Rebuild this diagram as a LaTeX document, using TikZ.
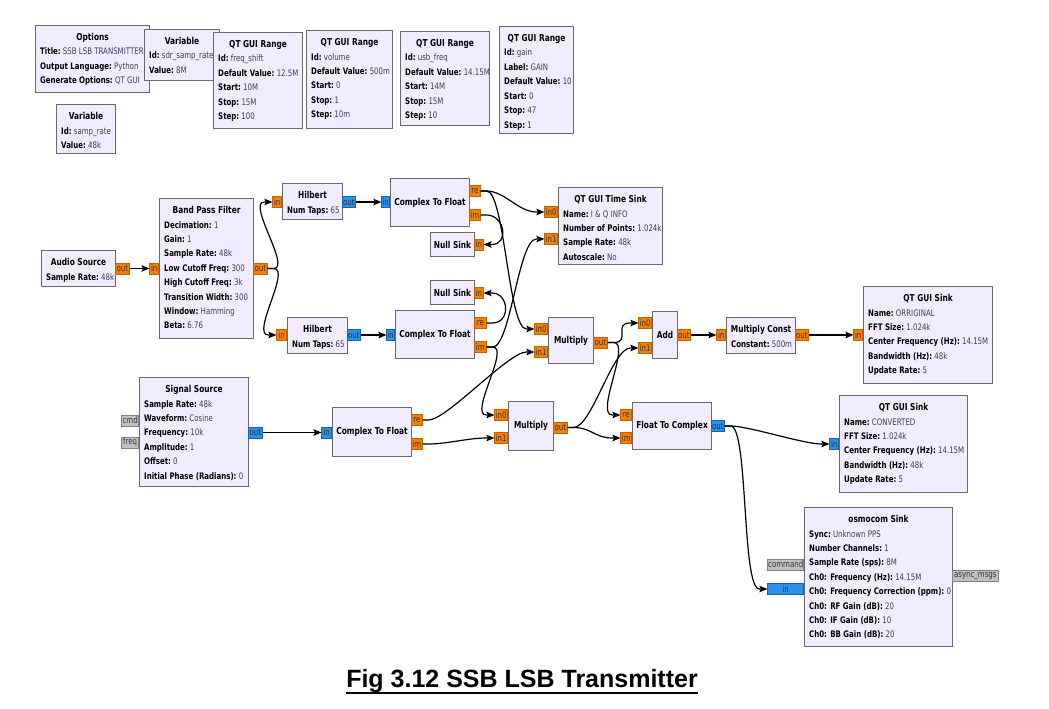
\documentclass[tikz,border=0pt]{standalone}
\usepackage{fontspec}
\usetikzlibrary{arrows.meta}
\newfontfamily\grcfont[FakeStretch=0.78]{DejaVu Sans}
\newfontfamily\capfont{Liberation Sans}
\definecolor{blkfill}{RGB}{241,236,255}
\definecolor{blkline}{RGB}{105,105,105}
\definecolor{valc}{RGB}{60,60,95}
\definecolor{fport}{RGB}{245,128,0}
\definecolor{fportl}{RGB}{200,95,0}
\definecolor{cport}{RGB}{40,145,235}
\definecolor{cportl}{RGB}{20,100,190}
\definecolor{mport}{RGB}{192,192,192}
\definecolor{mportl}{RGB}{130,130,130}
\tikzset{
 blk/.style={draw=blkline, line width=1.1pt, fill=blkfill, inner sep=0pt, anchor=north west},
 ttl/.style={font=\grcfont\fontsize{9.5}{11}\selectfont\bfseries, inner sep=0pt},
 prm/.style={font=\grcfont\fontsize{9}{11}\selectfont, text=valc, inner sep=0pt},
 port/.style={inner sep=0pt, minimum height=11pt, line width=0.6pt, font=\grcfont\fontsize{9}{10}\selectfont, text=black!80},
 fp/.style={port, fill=fport, draw=fportl},
 cp/.style={port, fill=cport, draw=cportl},
 mp/.style={port, fill=mport, draw=mportl},
 wire/.style={line width=1.2pt, -{Stealth[length=8pt,width=6.5pt,inset=1.5pt]}},
}
\newcommand{\grcblock}[7]{%
  \node[blk, minimum width=#4, minimum height=#5] (#1) at (#2,#3) {};
  \node[ttl, anchor=base] at ([yshift=-15.6pt]#1.north) {#6};
  \foreach \kk/\vv [count=\ii] in {#7} {%
    \node[prm, anchor=base west] at ([xshift=5pt,yshift={-15.6pt-14.4pt*\ii}]#1.north west) {{\color{black}\bfseries\kk:}\ \vv};
  }%
}
\newcommand{\grcsimple}[6]{%
  \node[blk, minimum width=#4, minimum height=#5] (#1) at (#2,#3) {};
  \node[ttl] at (#1.center) {#6};
}
\newcommand{\grcw}[2]{\draw[wire] (#1.east) -- ++(6,0) .. controls +(18,0) and +(-18,0) .. ([xshift=-8pt]#2.west) -- (#2.west);}
\newcommand{\grcwr}[2]{\draw[wire] (#1.east) -- ++(6,0) .. controls +(18,0) and +(18,0) .. ([xshift=8pt]#2.east) -- (#2.east);}
\begin{document}
\begin{tikzpicture}[x=1pt,y=-1pt]
\fill[white] (0,0) rectangle (1049,709);
\useasboundingbox (0,0) rectangle (1049,709);

% variables / options
\grcblock{opt}{35}{25}{114}{67}{Options}{Title/SSB LSB TRANSMITTER, Output Language/Python, Generate Options/QT GUI}
\grcblock{var1}{144}{29}{75}{51}{Variable}{Id/sdr\_samp\_rate, Value/8M}
\grcblock{rng1}{213}{32}{89}{96}{QT GUI Range}{Id/freq\_shift, Default Value/12.5M, Start/10M, Stop/15M, Step/100}
\grcblock{rng2}{306}{30}{86}{98}{QT GUI Range}{Id/volume, Default Value/500m, Start/0, Stop/1, Step/10m}
\grcblock{rng3}{400}{31}{89}{94}{QT GUI Range}{Id/usb\_freq, Default Value/14.15M, Start/14M, Stop/15M, Step/10}
\grcblock{rng4}{499}{26}{74}{107}{QT GUI Range}{Id/gain, Label/GAIN, Default Value/10, Start/0, Stop/47, Step/1}
\grcblock{var2}{56}{104}{59}{49}{Variable}{Id/samp\_rate, Value/48k}

% flow blocks
\grcblock{asrc}{41}{250}{74}{36}{Audio Source}{Sample Rate/48k}
\grcblock{bpf}{159}{198}{94}{140}{Band Pass Filter}{Decimation/1, Gain/1, Sample Rate/48k, Low Cutoff Freq/300, High Cutoff Freq/3k, Transition Width/300, Window/Hamming, Beta/6.76}
\grcblock{hil1}{282}{183}{60}{36}{Hilbert}{Num Taps/65}
\grcblock{hil2}{287}{317}{60}{36}{Hilbert}{Num Taps/65}
\grcsimple{ctf1}{390}{178}{79}{48}{Complex To Float}
\grcsimple{null1}{430}{232}{44}{24}{Null Sink}
\grcsimple{null2}{430}{280}{44}{24}{Null Sink}
\grcsimple{ctf2}{395}{310}{79}{48}{Complex To Float}
\grcblock{tsink}{558}{187}{104}{77}{QT GUI Time Sink}{Name/I \& Q INFO, Number of Points/1.024k, Sample Rate/48k, Autoscale/No}
\grcsimple{mul1}{548}{317}{45}{46}{Multiply}
\grcsimple{add}{652}{311}{25}{47}{Add}
\grcblock{mconst}{726}{317}{69}{36}{Multiply Const}{Constant/500m}
\grcblock{qsink1}{863}{286}{129}{97}{QT GUI Sink}{Name/ORRIGINAL, FFT Size/1.024k, Center Frequency (Hz)/14.15M, Bandwidth (Hz)/48k, Update Rate/5}
\grcblock{ssrc}{139}{377}{109}{109}{Signal Source}{Sample Rate/48k, Waveform/Cosine, Frequency/10k, Amplitude/1, Offset/0, Initial Phase (Radians)/0}
\grcsimple{ctf3}{332}{407}{79}{49}{Complex To Float}
\grcsimple{mul2}{508}{401}{45}{49}{Multiply}
\grcsimple{ftc}{632}{402}{79}{47}{Float To Complex}
\grcblock{qsink2}{839}{395}{128}{97}{QT GUI Sink}{Name/CONVERTED, FFT Size/1.024k, Center Frequency (Hz)/14.15M, Bandwidth (Hz)/48k, Update Rate/5}
\grcblock{osmo}{804}{507}{148}{139}{osmocom Sink}{Sync/Unknown PPS, Number Channels/1, Sample Rate (sps)/8M, Ch0: Frequency (Hz)/14.15M, Ch0: Frequency Correction (ppm)/0, Ch0: RF Gain (dB)/20, Ch0: IF Gain (dB)/10, Ch0: BB Gain (dB)/20}

% ports
\node[fp, minimum width=14pt, anchor=west] (asrc-o) at (115,268.5) {out};
\node[fp, minimum width=9pt, anchor=east] (bpf-i) at (159,268.5) {in};
\node[fp, minimum width=14pt, anchor=west] (bpf-o) at (253,268.5) {out};
\node[fp, minimum width=9pt, anchor=east] (hil1-i) at (282,202) {in};
\node[cp, minimum width=13pt, anchor=west] (hil1-o) at (342,202) {out};
\node[cp, minimum width=8pt, anchor=east] (ctf1-i) at (390,202) {in};
\node[fp, minimum width=11pt, anchor=west] (ctf1-re) at (469,191) {re};
\node[fp, minimum width=11pt, anchor=west] (ctf1-im) at (469,215) {im};
\node[fp, minimum width=9pt, anchor=west] (null1-i) at (474,244.5) {in};
\node[fp, minimum width=13pt, anchor=east] (tsink-i0) at (558,212) {in0};
\node[fp, minimum width=13pt, anchor=east] (tsink-i1) at (558,239) {in1};
\node[fp, minimum width=9pt, anchor=west] (null2-i) at (474,293) {in};
\node[fp, minimum width=10pt, anchor=east] (hil2-i) at (287,335) {in};
\node[cp, minimum width=13pt, anchor=west] (hil2-o) at (347,335) {out};
\node[cp, minimum width=8pt, anchor=east] (ctf2-i) at (395,335) {in};
\node[fp, minimum width=12pt, anchor=west] (ctf2-re) at (474,323) {re};
\node[fp, minimum width=12pt, anchor=west] (ctf2-im) at (474,347) {im};
\node[fp, minimum width=13pt, anchor=east] (mul1-i0) at (548,329) {in0};
\node[fp, minimum width=13pt, anchor=east] (mul1-i1) at (548,352) {in1};
\node[fp, minimum width=14pt, anchor=west] (mul1-o) at (593,342.5) {out};
\node[fp, minimum width=13pt, anchor=east] (add-i0) at (652,323) {in0};
\node[fp, minimum width=13pt, anchor=east] (add-i1) at (652,348) {in1};
\node[fp, minimum width=13pt, anchor=west] (add-o) at (677,335) {out};
\node[fp, minimum width=9pt, anchor=east] (mconst-i) at (726,335) {in};
\node[fp, minimum width=13pt, anchor=west] (mconst-o) at (795,335) {out};
\node[fp, minimum width=9pt, anchor=east] (qsink1-i) at (863,335) {in};
\node[mp, minimum width=17pt, anchor=east] (ssrc-cmd) at (139,420.5) {cmd};
\node[mp, minimum width=17pt, anchor=east] (ssrc-freq) at (139,442.5) {freq};
\node[cp, minimum width=14pt, anchor=west] (ssrc-o) at (248,432.5) {out};
\node[cp, minimum width=10pt, anchor=east] (ctf3-i) at (332,432.5) {in};
\node[fp, minimum width=11pt, anchor=west] (ctf3-re) at (411,420) {re};
\node[fp, minimum width=11pt, anchor=west] (ctf3-im) at (411,444) {im};
\node[fp, minimum width=13pt, anchor=east] (mul2-i0) at (508,415) {in0};
\node[fp, minimum width=13pt, anchor=east] (mul2-i1) at (508,438) {in1};
\node[fp, minimum width=14pt, anchor=west] (mul2-o) at (553,427.5) {out};
\node[fp, minimum width=11pt, anchor=east] (ftc-re) at (632,415) {re};
\node[fp, minimum width=11pt, anchor=east] (ftc-im) at (632,438) {im};
\node[cp, minimum width=13pt, anchor=west] (ftc-o) at (711,426) {out};
\node[cp, minimum width=9pt, anchor=east] (qsink2-i) at (839,444) {in};
\node[mp, minimum width=36pt, anchor=east] (osmo-cmd) at (804,564.5) {command};
\node[cp, minimum width=36pt, anchor=east] (osmo-i) at (804,589) {in};
\node[mp, minimum width=46pt, anchor=west] (osmo-am) at (952,576) {async\_msgs};

% connections
\grcw{asrc-o}{bpf-i}
\grcw{bpf-o}{hil1-i}
\grcw{bpf-o}{hil2-i}
\grcw{hil1-o}{ctf1-i}
\grcw{hil2-o}{ctf2-i}
\grcw{ctf1-re}{tsink-i0}
\grcw{ctf1-re}{mul1-i0}
\grcwr{ctf1-im}{null1-i}
\grcwr{ctf2-re}{null2-i}
\grcw{ctf2-im}{tsink-i1}
\grcw{ctf2-im}{mul2-i0}
\grcw{ssrc-o}{ctf3-i}
\grcw{ctf3-re}{mul1-i1}
\grcw{ctf3-im}{mul2-i1}
\grcw{mul1-o}{add-i0}
\grcw{mul1-o}{ftc-re}
\grcw{mul2-o}{add-i1}
\grcw{mul2-o}{ftc-im}
\grcw{add-o}{mconst-i}
\grcw{mconst-o}{qsink1-i}
\grcw{ftc-o}{qsink2-i}
\grcw{ftc-o}{osmo-i}

% caption
\node[font=\capfont\fontsize{25}{30}\selectfont\bfseries, anchor=base, inner sep=0pt] (cap) at (522,687) {Fig 3.12 SSB LSB Transmitter};
\draw[line width=2pt] ([yshift=-5.5pt]cap.base west) -- ([yshift=-5.5pt]cap.base east);
\end{tikzpicture}
\end{document}
